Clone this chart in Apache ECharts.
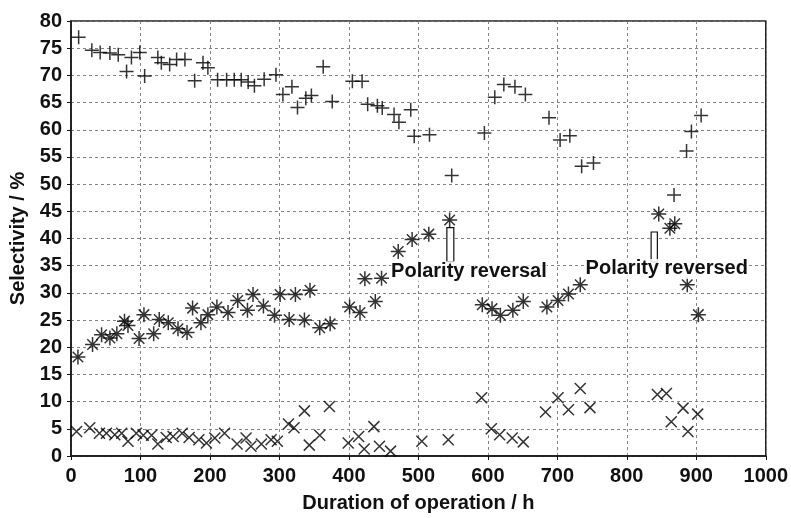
<!DOCTYPE html>
<html><head><meta charset="utf-8">
<script src="https://cdn.jsdelivr.net/npm/echarts@6/dist/echarts.min.js"></script>
<style>html,body{margin:0;padding:0;background:#fff}#c{width:791px;height:518px}</style>
</head><body><div id="c"></div>
<script>
// Data: [duration h, selectivity %]
var plusData = [[11,77.0],[30,74.6],[42,74.2],[56,74.1],[68,73.8],[80,70.7],[87,73.3],[99,74.2],[106,69.9],[125,73.3],[130,72.3],[142,72.0],[152,72.9],[164,72.9],[178,69.0],[190,72.3],[197,71.4],[211,69.2],[224,69.2],[235,69.2],[245,69.2],[255,68.8],[264,68.1],[278,69.3],[295,70.1],[305,66.5],[318,67.9],[326,64.1],[338,65.8],[346,66.3],[363,71.6],[376,65.2],[405,68.9],[419,68.9],[427,64.7],[441,64.4],[448,64.0],[465,62.8],[472,61.4],[489,63.7],[494,58.8],[516,59.1],[548,51.6],[595,59.4],[610,66.0],[623,68.3],[639,67.9],[654,66.5],[688,62.2],[704,58.1],[718,58.9],[735,53.3],[752,53.9],[868,48.0],[886,56.1],[893,59.7],[907,62.6]];
var starData = [[10,18.2],[31,20.5],[44,22.3],[56,21.7],[66,22.5],[77,24.8],[82,24.0],[98,21.6],[105,26.0],[119,22.5],[127,25.1],[140,24.5],[154,23.4],[167,22.7],[175,27.2],[187,24.5],[197,26.0],[210,27.4],[226,26.4],[240,28.6],[254,26.8],[262,29.7],[277,27.6],[293,25.9],[301,29.7],[314,25.1],[323,29.7],[336,25.0],[344,30.5],[358,23.6],[373,24.3],[401,27.4],[416,26.4],[423,32.6],[438,28.4],[447,32.7],[471,37.6],[491,39.8],[515,40.8],[545,43.4],[592,27.8],[606,27.1],[618,25.9],[636,26.8],[651,28.4],[685,27.4],[701,28.6],[716,29.8],[733,31.5],[846,44.5],[862,41.9],[869,42.7],[887,31.5],[903,26.0]];
var crossData = [[8,4.5],[27,5.2],[41,4.2],[51,4.2],[63,3.9],[73,4.2],[82,2.7],[94,4.2],[104,3.8],[116,3.8],[125,2.2],[137,3.4],[147,3.6],[160,4.2],[170,3.4],[184,3.0],[195,2.4],[207,3.3],[221,4.2],[239,2.2],[252,3.3],[259,1.8],[274,2.2],[288,3.0],[297,2.7],[313,5.9],[321,5.2],[336,8.3],[343,2.0],[358,3.8],[372,9.1],[399,2.4],[414,3.6],[422,1.3],[436,5.4],[444,1.8],[460,0.9],[505,2.7],[543,3.0],[591,10.7],[605,5.0],[617,3.9],[635,3.3],[651,2.6],[683,8.1],[701,10.7],[716,8.5],[733,12.4],[747,8.9],[844,11.3],[857,11.5],[864,6.3],[881,8.8],[888,4.5],[902,7.7]];
// Annotations: [x, y, text]
var notes = [[460,34.0,'Polarity reversal'],[740,34.4,'Polarity reversed']];
// Marker rectangles: [[x1,y1],[x2,y2]]
var boxes = [[[541,42.0],[551,35.7]],[[835,41.2],[844,35.7]]];
var xTicks = {min:0, max:1000, interval:100};
var yTicks = {min:0, max:80, interval:5};

var FONT = 'Liberation Sans';
var chart = echarts.init(document.getElementById('c'), null, {renderer:'canvas'});
var markStyle = {color:'transparent', borderColor:'#000', borderWidth:1.5};
chart.setOption({
  animation:false,
  backgroundColor:'#fff',
  grid:{left:71, right:23, top:21, bottom:60, show:true, borderColor:'#222', borderWidth:1.5, backgroundColor:'transparent'},
  xAxis:{type:'value', min:xTicks.min, max:xTicks.max, interval:xTicks.interval,
    name:'Duration of operation / h', nameLocation:'middle', nameGap:37,
    nameTextStyle:{fontFamily:FONT, fontSize:20, fontWeight:'bold', color:'#111'},
    axisLine:{lineStyle:{color:'#111', width:1.5}},
    axisTick:{show:true, length:4, lineStyle:{color:'#111'}},
    axisLabel:{fontFamily:FONT, fontSize:20, fontWeight:'bold', color:'#111', margin:10, formatter:function(v){return String(v);}},
    splitLine:{show:true, lineStyle:{color:'#777', type:[3,3], width:0.9}}},
  yAxis:{type:'value', min:yTicks.min, max:yTicks.max, interval:yTicks.interval,
    name:'Selectivity / %', nameLocation:'middle', nameGap:40,
    nameTextStyle:{fontFamily:FONT, fontSize:20, fontWeight:'bold', color:'#111'},
    axisLine:{show:true, lineStyle:{color:'#111', width:1.5}},
    axisTick:{show:true, length:4, lineStyle:{color:'#111'}},
    axisLabel:{fontFamily:FONT, fontSize:20, fontWeight:'bold', color:'#111', margin:9},
    splitLine:{show:true, lineStyle:{color:'#777', type:[3,3], width:0.9}}},
  series:[
    {type:'scatter', name:'plus', data:plusData, symbol:'path://M0,5L10,5M5,0L5,10', symbolSize:14, itemStyle:markStyle},
    {type:'scatter', name:'star', data:starData, symbol:'path://M0,5L10,5M5,0L5,10M1.5,1.5L8.5,8.5M8.5,1.5L1.5,8.5', symbolSize:15, itemStyle:markStyle,
      markArea:{silent:true, itemStyle:{color:'rgba(255,255,255,0.9)', borderColor:'#111', borderWidth:1.2},
        data:boxes.map(function(b){return [{coord:b[0]},{coord:b[1]}];})},
      markPoint:{silent:true, symbol:'rect', symbolSize:[1,1], itemStyle:{color:'transparent'},
        label:{show:true, position:'right', distance:0, fontFamily:FONT, fontSize:20, fontWeight:'bold', color:'#111',
          backgroundColor:'rgba(255,255,255,0.85)', formatter:function(p){return p.name;}},
        data:notes.map(function(n){return {name:n[2], coord:[n[0],n[1]]};})}},
    {type:'scatter', name:'cross', data:crossData, symbol:'path://M0,0L10,10M10,0L0,10', symbolSize:11, itemStyle:markStyle}
  ]
});
</script></body></html>
